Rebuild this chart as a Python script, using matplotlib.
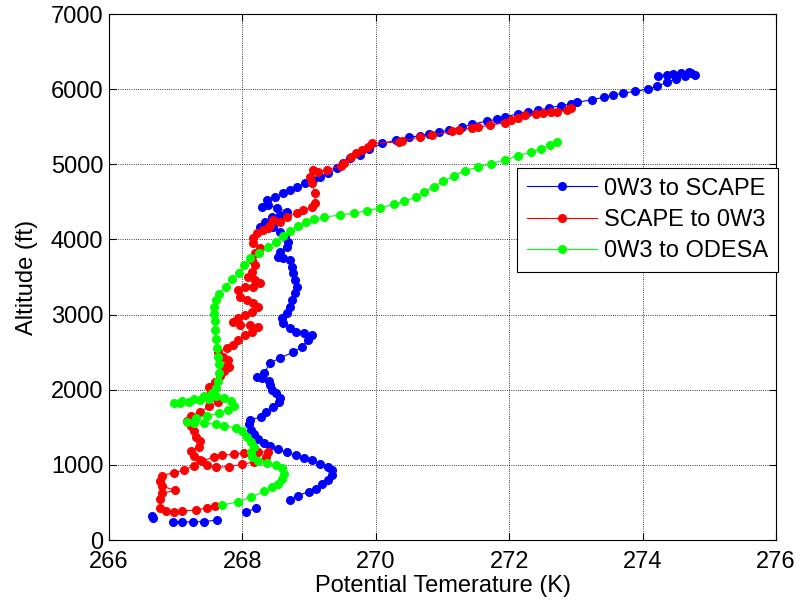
import matplotlib
matplotlib.use("Agg")
import matplotlib.pyplot as plt

plt.rcParams['font.family'] = ['Liberation Sans', 'DejaVu Sans']
nan = float('nan')

# 0W3 to SCAPE (blue); nan marks breaks in the recorded track
blue_T = [267.62, 267.43, 267.26, 267.10, 266.96, nan, 266.64, 266.66, nan, 268.05, 268.21, nan,
          268.71, 268.83,
          269.00, 269.11, 269.20, 269.28, 269.35, 269.35, 269.28, 269.17, 269.05, 268.92,
          268.80, 268.67, 268.53, 268.42, 268.32, 268.23, 268.17, 268.13, 268.10, 268.12,
          268.28, 268.35, 268.46, 268.55, 268.57, 268.50, 268.45, 268.42, 268.40, 268.30,
          268.22, 268.33, 268.41, 268.56, 268.76, 268.89, 268.98, 269.04, 268.93, 268.80,
          268.71, 268.61, 268.59, 268.67, 268.71, 268.74, 268.79, 268.82, 268.79, 268.76,
          268.74, 268.71, 268.61, 268.54, 268.56, 268.67, 268.68, 268.64, 268.56, 268.46,
          268.37, 268.26, 268.34, 268.44, 268.56, 268.67, 268.52, 268.38, 268.29, 268.37,
          268.49, 268.61, 268.71, 268.82, 268.94, 269.06, 269.16, 269.28, 269.42, 269.51,
          269.61, 269.76, 269.90, 270.10, 270.30, 270.50, 270.67, 270.79, 270.94, 271.09,
          271.29, 271.44, 271.66, 271.81, 271.93, 272.13, 272.28, 272.43, 272.60, 272.77,
          272.92, 273.02, 273.24, 273.42, 273.56, 273.71, 273.89, 274.08, 274.21, 274.36,
          274.50, 274.63, 274.73, 274.78, 274.70, 274.58, 274.46, 274.36, 274.23]
blue_alt = [266, 245, 240, 240, 240, nan, 320, 293, nan, 373, 426, nan,
            532, 590,
            645, 685, 740, 800, 860, 930, 975, 1010, 1070, 1095,
            1125, 1165, 1205, 1250, 1290, 1345, 1410, 1470, 1540, 1600,
            1640, 1700, 1770, 1830, 1890, 1950, 2000, 2060, 2110, 2160,
            2170, 2220, 2355, 2420, 2500, 2570, 2660, 2730, 2750, 2770,
            2820, 2890, 2950, 3020, 3100, 3190, 3290, 3370, 3460, 3550,
            3630, 3730, 3750, 3770, 3830, 3900, 3970, 4030, 4100, 4165,
            4150, 4165, 4230, 4300, 4325, 4370, 4420, 4460, 4430, 4525,
            4565, 4615, 4660, 4700, 4750, 4790, 4830, 4880, 4950, 5020,
            5080, 5120, 5200, 5277, 5320, 5364, 5377, 5408, 5430, 5452,
            5496, 5531, 5575, 5597, 5628, 5672, 5694, 5716, 5751, 5781,
            5803, 5825, 5860, 5891, 5922, 5948, 5970, 6001, 6036, 6089,
            6133, 6177, 6212, 6190, 6230, 6220, 6200, 6190, 6177]

# SCAPE to 0W3 (red)
red_T = [272.92, 272.87, 272.72, 272.62, 272.50, 272.40, 272.23, 272.13, 272.03, 271.93,
         271.71, 271.53, 271.44, 271.24, 271.14, 270.84, 270.67, 270.40, 270.35, 269.95,
         269.88, 269.80, 269.70, 269.63, 269.53, 269.48, 269.27, 269.14, 269.06, 269.01,
         269.04, 269.09, 269.09, 269.04, 268.91, 268.82, 268.67, 268.56, 268.46, 268.41,
         268.38, 268.31, 268.22, 268.16, 268.16, 268.26, 268.19, 268.14, 268.19, 268.14,
         268.08, 268.19, 268.26, 268.16, 268.04, 267.93, 267.96, 268.07, 268.16, 268.24,
         268.14, 268.04, 267.93, 267.86, 267.96, 268.11, 268.23, 268.14, 268.04, 267.93,
         267.86, 267.77, 267.63, 267.71, 267.78, 267.74, 267.80, 267.73, 267.67, 267.59,
         267.50, 267.53, 267.61, 267.63, 267.50, 267.37, 267.23, 267.17, 267.23, 267.27,
         267.30, 267.37, 267.35, 267.23, 267.27, 267.37, 267.47, 267.61, 267.80, 268.00,
         268.17, 268.35, 268.39, 268.23, 268.03, 267.87, 267.70, 267.57, 267.40, 267.27,
         267.13, 266.97, 266.80, 266.77, 266.80, 266.99, 266.80, 266.77, 266.76, 266.85,
         266.97, 267.10, 267.30, 267.47, 267.59]
red_alt = [5746, 5716, 5702, 5694, 5685, 5672, 5650, 5615, 5584, 5553,
           5518, 5496, 5487, 5452, 5439, 5386, 5364, 5312, 5298, 5277,
           5233, 5189, 5145, 5101, 5013, 4982, 4925, 4903, 4925, 4830,
           4750, 4615, 4485, 4430, 4390, 4350, 4300, 4230, 4260, 4190,
           4150, 4125, 4085, 4020, 3950, 3885, 3820, 3730, 3660, 3570,
           3500, 3460, 3420, 3370, 3370, 3330, 3235, 3190, 3150, 3100,
           3035, 2990, 2950, 2900, 2860, 2860, 2830, 2770, 2730, 2660,
           2595, 2555, 2500, 2435, 2395, 2300, 2297, 2250, 2179, 2108,
           2038, 1967, 1896, 1835, 1778, 1708, 1646, 1590, 1519, 1448,
           1377, 1316, 1236, 1189, 1118, 1061, 1000, 967, 976, 1009,
           1038, 1108, 1175, 1165, 1156, 1142, 1127, 1108, 1047, 991,
           929, 896, 858, 788, 717, 660, 623, 552, 430, 390,
           375, 385, 400, 425, 452]

# 0W3 to ODESA (green)
green_T = [267.70, 267.93, 268.13, 268.33, 268.45, 268.53, 268.60, 268.63, 268.60, 268.50,
           268.37, 268.23, 268.15, 268.13, 268.17, 268.13, 268.07, 267.99, 267.90, 267.73,
           267.60, 267.43, 267.27, 267.17, 267.30, 267.47, 267.65, 267.79, 267.87, 267.83,
           267.73, 267.61, 267.50, 267.37, 267.20, 267.07, 266.97, 267.10, 267.27, 267.43,
           267.55, 267.61, 267.63, 267.65, 267.65, 267.64, 267.62, 267.60, 267.59, 267.59,
           267.57, 267.57, 267.60, 267.65, 267.75, 267.85, 267.95, 268.03, 268.12, 268.25,
           268.39, 268.51, 268.61, 268.72, 268.83, 268.95, 269.07, 269.23, 269.47, 269.67,
           269.87, 270.07, 270.27, 270.43, 270.60, 270.73, 270.87, 271.01, 271.17, 271.33,
           271.53, 271.73, 271.93, 272.13, 272.32, 272.48, 272.61, 272.72]
green_alt = [466, 506, 572, 646, 703, 750, 811, 882, 953, 1000,
             1024, 1057, 1104, 1165, 1236, 1307, 1377, 1448, 1495, 1519,
             1542, 1552, 1561, 1575, 1627, 1651, 1684, 1731, 1778, 1849,
             1896, 1910, 1882, 1863, 1840, 1825, 1825, 1854, 1882, 1910,
             1953, 2024, 2118, 2226, 2344, 2439, 2557, 2675, 2792, 2910,
             3005, 3099, 3193, 3278, 3373, 3467, 3547, 3656, 3750, 3821,
             3901, 3972, 4043, 4109, 4175, 4231, 4269, 4297, 4326, 4349,
             4382, 4420, 4467, 4514, 4561, 4632, 4703, 4774, 4844, 4915,
             4962, 5009, 5057, 5113, 5160, 5208, 5255, 5293]

series_labels = ['0W3 to SCAPE', 'SCAPE to 0W3', '0W3 to ODESA']
x_ticks = [266, 268, 270, 272, 274, 276]
y_ticks = [0, 1000, 2000, 3000, 4000, 5000, 6000, 7000]

fig = plt.figure(figsize=(8.05, 6.09), dpi=100)
ax = fig.add_axes([0.1354, 0.1133, 0.8286, 0.8637])

ms = 5.5
ax.plot(blue_T, blue_alt, '-o', color=(0, 0, 1), lw=0.8, ms=ms, label=series_labels[0], zorder=3)
ax.plot(red_T, red_alt, '-o', color=(1, 0, 0), lw=0.8, ms=ms, label=series_labels[1], zorder=4)
ax.plot(green_T, green_alt, '-o', color=(0, 1, 0), lw=0.8, ms=ms, label=series_labels[2], zorder=5)

ax.set_xlim(266, 276)
ax.set_ylim(0, 7000)
ax.set_xticks(x_ticks)
ax.set_yticks(y_ticks)
ax.tick_params(direction='in', top=True, right=True, labelsize=17, length=5, width=0.8)
ax.tick_params(axis='x', pad=8)
ax.tick_params(axis='y', pad=4)
ax.grid(True, linestyle=':', color='black', linewidth=0.6)
for s in ax.spines.values():
    s.set_linewidth(0.8)

ax.set_xlabel('Potential Temerature (K)', fontsize=17, labelpad=1)
ax.set_ylabel('Altitude (ft)', fontsize=17, labelpad=9)

leg = ax.legend(loc='upper right', bbox_to_anchor=(1.003, 0.707), fontsize=17,
                fancybox=False, edgecolor='black', framealpha=1, handlelength=3.0,
                borderaxespad=0, labelspacing=0.4, handletextpad=0.3, borderpad=0.4)
leg.get_frame().set_linewidth(0.8)

fig.savefig('out.png', dpi=100)
